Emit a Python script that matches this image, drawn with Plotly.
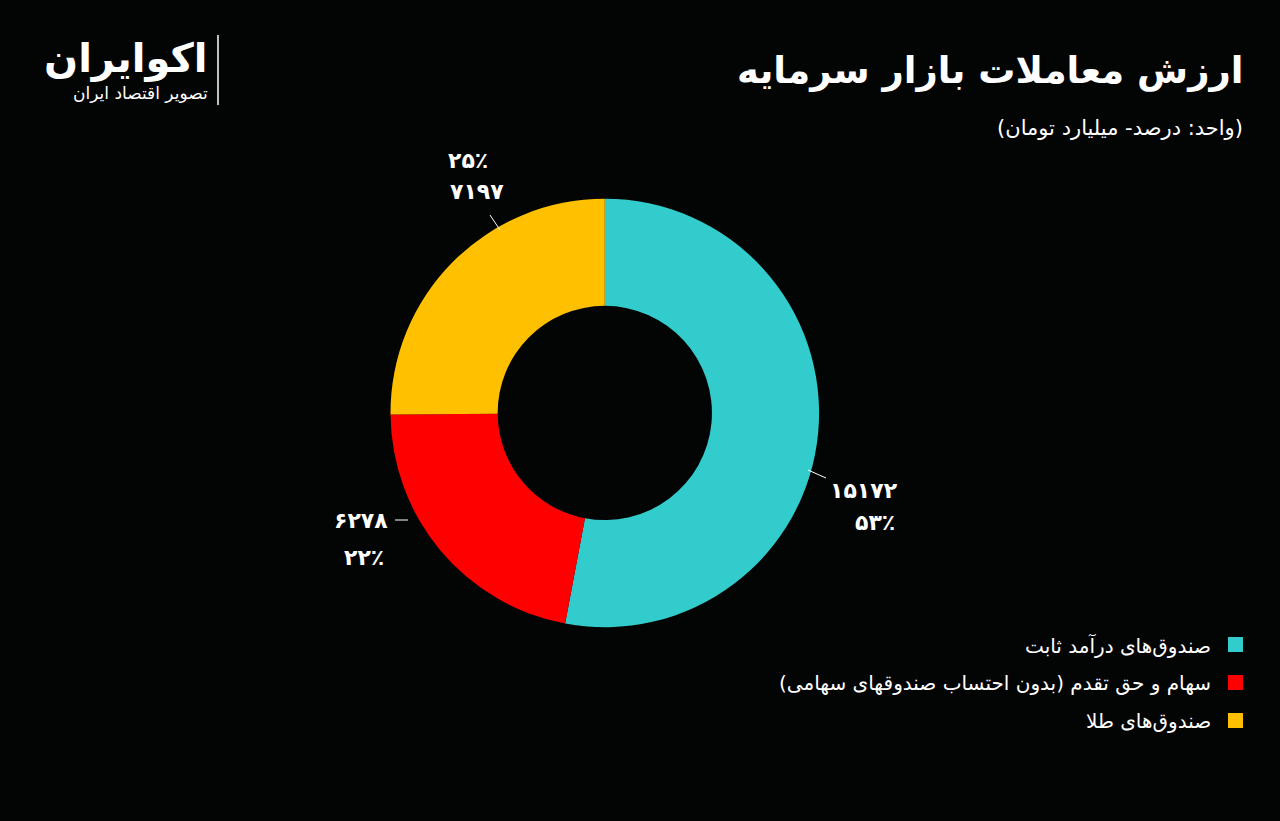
import plotly.graph_objects as go

labels = ["صندوق‌های درآمد ثابت",
          "سهام و حق تقدم (بدون احتساب صندوقهای سهامی)",
          "صندوق‌های طلا"]
values = [15172, 6278, 7197]
shares = ["۵۳٪", "۲۲٪", "۲۵٪"]
value_text = ["۱۵۱۷۲", "۶۲۷۸", "۷۱۹۷"]
colors = ["#33CCCC", "#FF0000", "#FFC000"]

FONT = "DejaVu Sans"

fig = go.Figure(go.Pie(
    labels=labels, values=values, textinfo="none",
    marker=dict(colors=colors, line=dict(width=0)),
    hole=0.5, sort=False, direction="clockwise", rotation=0,
    domain=dict(x=[0.305, 0.640], y=[0.236, 0.758]),
    showlegend=False,
))

annotations = [
    dict(text="<b>ارزش معاملات بازار سرمایه</b>", x=1245, y=70, font=dict(size=37)),
    dict(text="(واحد: درصد- میلیارد تومان)", x=1245, y=128, font=dict(size=21)),
    dict(text="<b>اکوایران</b>", x=210, y=58, font=dict(size=40)),
    dict(text="تصویر اقتصاد ایران", x=210, y=93, font=dict(size=17)),
    # slice labels
    dict(text=f"<b>{value_text[0]}</b>", x=900, y=490, font=dict(size=22)),
    dict(text=f"<b>{shares[0]}</b>", x=897, y=522, font=dict(size=22)),
    dict(text=f"<b>{value_text[1]}</b>", x=390, y=520, font=dict(size=22)),
    dict(text=f"<b>{shares[1]}</b>", x=386, y=557, font=dict(size=22)),
    dict(text=f"<b>{shares[2]}</b>", x=490, y=160, font=dict(size=22)),
    dict(text=f"<b>{value_text[2]}</b>", x=506, y=191, font=dict(size=22)),
]
shapes = [
    dict(type="line", x0=218, x1=218, y0=35, y1=105, line=dict(color="white", width=1.5)),
    dict(type="line", x0=808, x1=826, y0=470, y1=478, line=dict(color="white", width=1)),
    dict(type="line", x0=395, x1=408, y0=520, y1=520, line=dict(color="white", width=1)),
    dict(type="line", x0=490, x1=500, y0=215, y1=230, line=dict(color="white", width=1)),
]
for i, lab in enumerate(labels):
    y = 645 + i * 38
    annotations.append(dict(text=lab, x=1213, y=y, font=dict(size=20)))
    shapes.append(dict(type="rect", x0=1228, x1=1243, y0=y - 8, y1=y + 7,
                       fillcolor=colors[i], line=dict(width=0)))
for a in annotations:
    a.update(xref="x", yref="y", xanchor="right", yanchor="middle", showarrow=False)
    a["font"].update(color="white", family=FONT)
for s in shapes:
    s.update(xref="x", yref="y")

fig.update_layout(
    width=1280, height=821, margin=dict(l=0, r=0, t=0, b=0),
    paper_bgcolor="#030404", plot_bgcolor="#030404",
    xaxis=dict(range=[0, 1280], visible=False, fixedrange=True),
    yaxis=dict(range=[821, 0], visible=False, fixedrange=True),
    annotations=annotations, shapes=shapes,
)

fig.write_html("out.html", config={"displayModeBar": False},
               post_script="document.body.style.margin='0';document.body.style.background='#030404';")
